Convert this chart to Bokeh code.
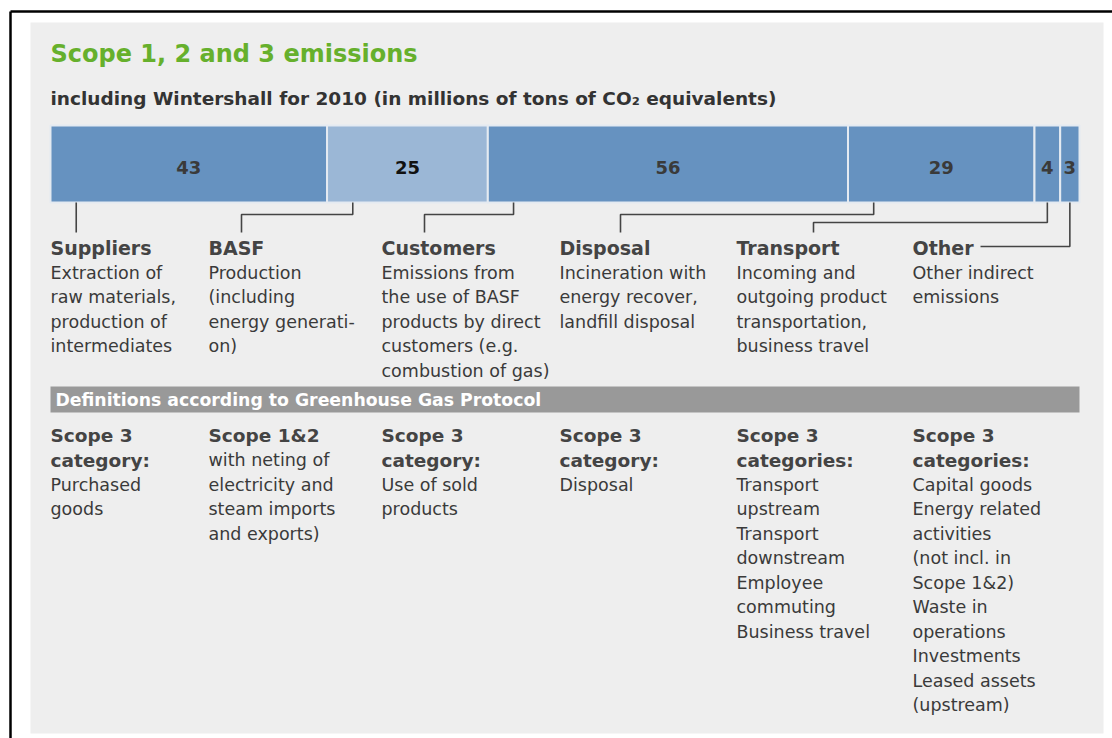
from bokeh.plotting import figure
from bokeh.models import Range1d, ColumnDataSource
from bokeh.core.properties import value
from bokeh.embed import file_html
from bokeh.resources import INLINE

# ---------------- data ----------------
categories = ["Suppliers", "BASF", "Customers", "Disposal", "Transport", "Other"]
values = [43, 25, 56, 29, 4, 3]
value_labels = ["43", "25", "56", "29", "4", "3"]

top_desc = [
    ["Extraction of", "raw materials,", "production of", "intermediates"],
    ["Production", "(including", "energy generati-", "on)"],
    ["Emissions from", "the use of BASF", "products by direct", "customers (e.g.", "combustion of gas)"],
    ["Incineration with", "energy recover,", "landfill disposal"],
    ["Incoming and", "outgoing product", "transportation,", "business travel"],
    ["Other indirect", "emissions"],
]

scope_heads = [
    ["Scope 3", "category:"],
    ["Scope 1&2"],
    ["Scope 3", "category:"],
    ["Scope 3", "category:"],
    ["Scope 3", "categories:"],
    ["Scope 3", "categories:"],
]
scope_desc = [
    ["Purchased", "goods"],
    ["with neting of", "electricity and", "steam imports", "and exports)"],
    ["Use of sold", "products"],
    ["Disposal"],
    ["Transport", "upstream", "Transport", "downstream", "Employee", "commuting", "Business travel"],
    ["Capital goods", "Energy related", "activities", "(not incl. in", "Scope 1&2)", "Waste in",
     "operations", "Investments", "Leased assets", "(upstream)"],
]

title = "Scope 1, 2 and 3 emissions"
subtitle = "including Wintershall for 2010 (in millions of tons of CO\u2082 equivalents)"
band_text = "Definitions according to Greenhouse Gas Protocol"

# ---------------- layout ----------------
W, H = 1112, 738
FONT = value("DejaVu Sans")
BAR_LEFT, BAR_RIGHT = 50, 1079
BAR_TOP, BAR_BOT = 125, 202
COL_X = [50, 208, 381, 559, 736, 912]
LINE_H = 24.5

total = sum(values)
ppu = (BAR_RIGHT - BAR_LEFT) / total
v_start = -BAR_LEFT / ppu
v_end = (W - BAR_LEFT) / ppu


def px2v(px):
    return (px - BAR_LEFT) / ppu


p = figure(width=W, height=H, x_range=Range1d(0, W), y_range=Range1d(H, 0),
           x_axis_type=None, y_axis_type=None, min_border=0,
           outline_line_color=None, toolbar_location=None, output_backend="svg",
           background_fill_color="white", border_fill_color="white")
p.extra_x_ranges = {"val": Range1d(v_start, v_end)}
p.grid.visible = False

# page frame and panel
p.quad(left=[30], right=[1103], top=[22], bottom=[733], fill_color="#eeeeee", line_color=None)
p.segment(x0=[10, 10], y0=[11, 11], x1=[W, 10], y1=[11, H], line_color="black", line_width=2.5)

# title & subtitle
p.text(x=[50], y=[53], text=[title], text_font=FONT, text_font_style="bold",
       text_font_size="24px", text_color="#66b02c", text_baseline="middle")
p.text(x=[50], y=[98], text=[subtitle], text_font=FONT, text_font_style="bold",
       text_font_size="18.5px", text_color="#333333", text_baseline="middle")

# stacked bar
starts, ends = [], []
acc = 0
for v in values:
    starts.append(acc)
    acc += v
    ends.append(acc)
colors = ["#6692c0", "#9bb7d6", "#6692c0", "#6692c0", "#6692c0", "#6692c0"]
bar_src = ColumnDataSource(dict(left=starts, right=ends, color=colors,
                                mid=[(a + b) / 2 for a, b in zip(starts, ends)],
                                lab=value_labels,
                                lab_color=["#3a3a3a", "#111111", "#3a3a3a", "#3a3a3a", "#3a3a3a", "#3a3a3a"]))
p.quad(left="left", right="right", top=BAR_TOP, bottom=BAR_BOT, fill_color="color",
       line_color="#e4eaf1", line_width=2, source=bar_src, x_range_name="val")
p.text(x="mid", y=167, text="lab", text_color="lab_color", source=bar_src, x_range_name="val",
       text_font=FONT, text_font_style="bold", text_font_size="18px",
       text_align="center", text_baseline="middle")

# connectors
attach_x = [None, 241, 424, 620, 813, 980]
levels = [None, 214, 214, 214, 222, 246]
xs, ys = [], []
for i, (s, v) in enumerate(zip(starts, values)):
    a = s + min(4, v / 2)
    if i == 0:
        xs.append([a, a]); ys.append([BAR_BOT, 232])
    elif categories[i] == "Other":
        xs.append([a, a, px2v(attach_x[i])]); ys.append([BAR_BOT, levels[i], levels[i]])
    else:
        t = px2v(attach_x[i])
        xs.append([a, a, t, t]); ys.append([BAR_BOT, levels[i], levels[i], 232])
p.multi_line(xs=xs, ys=ys, line_color="#444444", line_width=1.6, x_range_name="val")

# top labels
p.text(x=COL_X, y=[247] * 6, text=categories, text_font=FONT, text_font_style="bold",
       text_font_size="19px", text_color="#444444", text_baseline="middle")
tx, ty, tt = [], [], []
for cx, lines in zip(COL_X, top_desc):
    for k, ln in enumerate(lines):
        tx.append(cx); ty.append(272 + LINE_H * k); tt.append(ln)
p.text(x=tx, y=ty, text=tt, text_font=FONT, text_font_size="17.5px",
       text_color="#3a3a3a", text_baseline="middle")

# definitions band
p.quad(left=[BAR_LEFT], right=[BAR_RIGHT], top=[386], bottom=[412], fill_color="#999999", line_color=None)
p.text(x=[55], y=[399], text=[band_text], text_font=FONT, text_font_style="bold",
       text_font_size="17.3px", text_color="white", text_baseline="middle")

# scope definitions
hx, hy, ht, bx, by, bt = [], [], [], [], [], []
for cx, heads, lines in zip(COL_X, scope_heads, scope_desc):
    k = 0
    for h in heads:
        hx.append(cx); hy.append(435 + LINE_H * k); ht.append(h); k += 1
    for ln in lines:
        bx.append(cx); by.append(435 + LINE_H * k); bt.append(ln); k += 1
p.text(x=hx, y=hy, text=ht, text_font=FONT, text_font_style="bold",
       text_font_size="18.5px", text_color="#444444", text_baseline="middle")
p.text(x=bx, y=by, text=bt, text_font=FONT, text_font_size="17.5px",
       text_color="#3a3a3a", text_baseline="middle")

open("out.html", "w").write(file_html(p, INLINE))
